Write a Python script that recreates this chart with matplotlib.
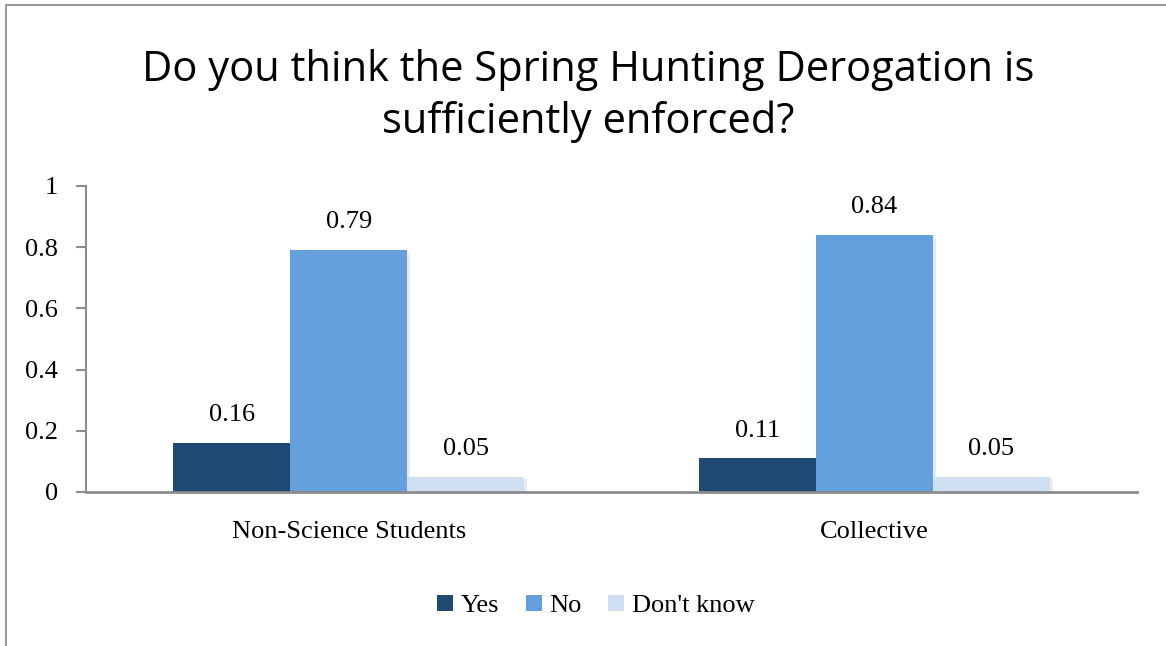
import numpy as np
import matplotlib.pyplot as plt
from matplotlib.patches import Rectangle

# survey answers, share of respondents
groups = ["Non-Science Students", "Collective"]
answers = ["Yes", "No", "Don't know"]
yes_vals = [0.16, 0.11]
no_vals = [0.79, 0.84]
dk_vals = [0.05, 0.05]
colors = ["#1f4a73", "#64a1dc", "#cfe0f2"]
yticks = [0, 0.2, 0.4, 0.6, 0.8, 1]
ytick_labels = ["0", "0.2", "0.4", "0.6", "0.8", "1"]

W, H = 1166, 646
fig = plt.figure(figsize=(W / 100, H / 100), dpi=100)
serif = "Liberation Serif"

# outer chart frame
fig.patches.append(Rectangle((6 / W, -0.1), 1.2, 1 - 5 / H + 0.1, transform=fig.transFigure,
                             fill=False, edgecolor="#9a9a9a", linewidth=1.5))

ax = fig.add_axes([86 / W, 1 - 492 / H, (1137 - 86) / W, (492 - 186) / H])

x = np.arange(len(groups))
width = 0.2226
series = [yes_vals, no_vals, dk_vals]
for i, (vals, name, col) in enumerate(zip(series, answers, colors)):
    pos = x + (i - 1) * width
    # soft drop shadow behind each bar
    ax.bar(pos + 0.006, vals, width, bottom=-0.008, color="#000000", alpha=0.08, zorder=1)
    bars = ax.bar(pos, vals, width, color=col, label=name, zorder=2)
    for b, v in zip(bars, vals):
        ax.annotate(f"{v:g}", (b.get_x() + b.get_width() / 2, v), xytext=(0, 20),
                    textcoords="offset points", ha="center", va="center",
                    fontsize=19, family=serif)

ax.set_xlim(-0.5, 1.5)
ax.set_ylim(0, 1)
ax.set_yticks(yticks)
ax.set_yticklabels(ytick_labels, family=serif, fontsize=19)
ax.set_xticks(x)
ax.set_xticklabels(groups, family=serif, fontsize=19)
ax.tick_params(axis="y", length=7, width=1.5, color="#8c8c8c", pad=13)
ax.tick_params(axis="x", length=0, pad=21)
for s in ["top", "right"]:
    ax.spines[s].set_visible(False)
ax.spines["left"].set_color("#8c8c8c")
ax.spines["left"].set_linewidth(1.5)
ax.spines["bottom"].set_color("#8c8c8c")
ax.spines["bottom"].set_linewidth(2)
ax.spines["bottom"].set_zorder(3)

fig.text(588 / W, 1 - 96 / H, "Do you think the Spring Hunting Derogation is\nsufficiently enforced?",
         ha="center", va="center", fontsize=30, family="Open Sans", linespacing=1.32)

handles, labels = ax.get_legend_handles_labels()
fig.legend(handles, labels, loc="center", bbox_to_anchor=(596 / W, 1 - 606 / H), ncol=3,
           frameon=False, prop={"family": serif, "size": 19}, handlelength=0.6,
           handleheight=0.6, handletextpad=0.3, columnspacing=1.0)

fig.savefig("out.png", dpi=100)
